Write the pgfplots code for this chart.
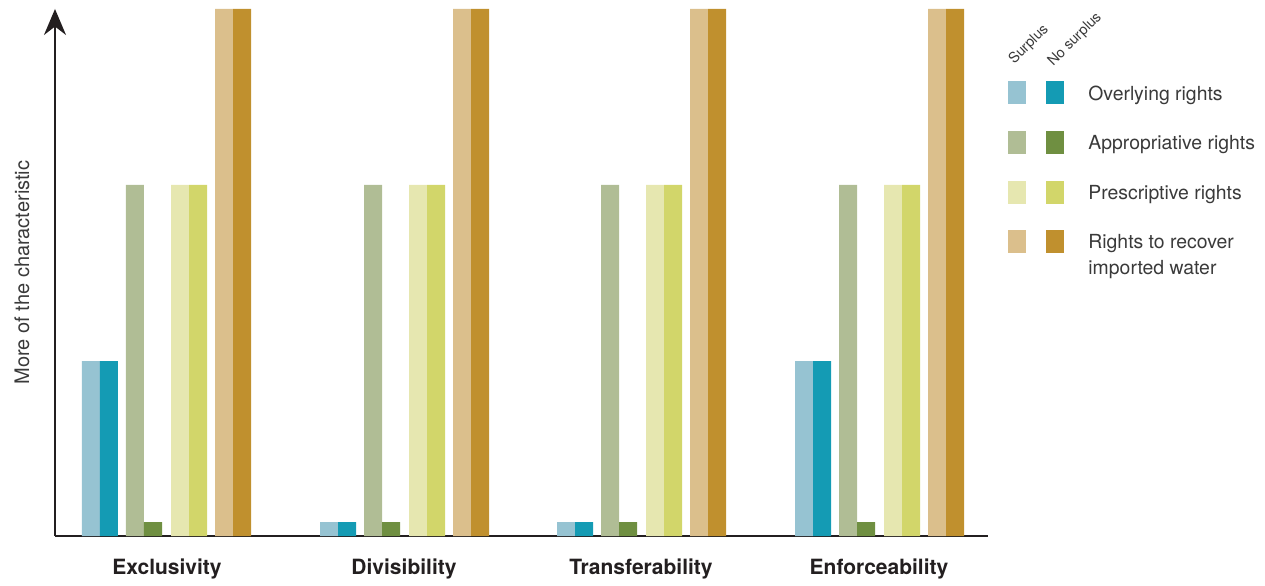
\documentclass[border=0pt]{standalone}
\usepackage{fontspec}
\setmainfont{TeX Gyre Heros}
\usepackage{pgfplots}
\pgfplotsset{compat=1.18}
\usetikzlibrary{arrows.meta}

\definecolor{sOver}{HTML}{96C3D2}
\definecolor{nOver}{HTML}{149BB4}
\definecolor{sAppr}{HTML}{B0BD95}
\definecolor{nAppr}{HTML}{6F8F41}
\definecolor{sPres}{HTML}{E6E7B0}
\definecolor{nPres}{HTML}{D2D66A}
\definecolor{sRec}{HTML}{DBBF8C}
\definecolor{nRec}{HTML}{C0902E}
\definecolor{axisgray}{HTML}{231F20}
\definecolor{textgray}{HTML}{3A3A3A}

% legend picture: surplus square, then no-surplus square
\newcommand{\pairimage}[2]{%
  \addlegendimage{legend image code/.code={%
    \fill[#1, draw=none] (0pt,-2.15pt) rectangle (9pt,9.35pt);
    \fill[#2, draw=none] (19pt,-2.15pt) rectangle (28pt,9.35pt);
    \path[draw=none, fill=none] (0pt,0pt) -- (38pt,0pt);}}}

\begin{document}
\begin{tikzpicture}
\begin{axis}[
    scale only axis,
    width=466.5pt, height=263.5pt,
    xmin=55, xmax=988, ymin=0, ymax=527,
    axis x line=bottom, axis y line=left,
    x axis line style={-, line width=0.8pt, color=axisgray},
    y axis line style={-{Stealth[length=13pt,width=11pt]}, line width=0.7pt, color=axisgray},
    ytick=\empty,
    xtick={167,404,641,879},
    xticklabels={Exclusivity,Divisibility,Transferability,Enforceability},
    xticklabel style={font=\fontsize{10.5}{12}\selectfont\bfseries, text=axisgray, yshift=-8pt},
    major tick length=0pt,
    ylabel={More of the characteristic},
    ylabel style={at={(axis description cs:-0.0354,0.5)}, anchor=center,
        font=\fontsize{10}{12}\selectfont, text=textgray},
    ybar, bar width=18, bar shift=0pt,
    clip=false,
    legend style={at={(axis description cs:1.0214,0.8634)}, anchor=north west,
        draw=none, fill=none, inner sep=0pt, row sep=13.3pt,
        font=\fontsize{9.7}{13}\selectfont, text=textgray,
        nodes={inner ysep=0pt}, cells={anchor=base west}},
]

% Overlying rights
\addplot[fill=sOver, draw=none, forget plot] coordinates {(91,175) (329,14) (566,14) (804,175)};
\addplot[fill=nOver, draw=none, forget plot] coordinates {(109,175) (347,14) (584,14) (822,175)};
% Appropriative rights
\addplot[fill=sAppr, draw=none, forget plot] coordinates {(135,351) (373,351) (610,351) (848,351)};
\addplot[fill=nAppr, draw=none, forget plot] coordinates {(153,14) (391,14) (628,14) (866,14)};
% Prescriptive rights
\addplot[fill=sPres, draw=none, forget plot] coordinates {(180,351) (418,351) (655,351) (893,351)};
\addplot[fill=nPres, draw=none, forget plot] coordinates {(198,351) (436,351) (673,351) (911,351)};
% Rights to recover imported water
\addplot[fill=sRec, draw=none, forget plot] coordinates {(224,527) (462,527) (699,527) (937,527)};
\addplot[fill=nRec, draw=none, forget plot] coordinates {(242,527) (480,527) (717,527) (955,527)};

\pairimage{sOver}{nOver}
\addlegendentry{Overlying rights}
\pairimage{sAppr}{nAppr}
\addlegendentry{Appropriative rights}
\pairimage{sPres}{nPres}
\addlegendentry{Prescriptive rights}
\pairimage{sRec}{nRec}
\addlegendentry{\begin{tabular}[t]{@{}l@{}}Rights to recover\\imported water\end{tabular}}

\node[rotate=45, anchor=base west, inner sep=0pt, font=\fontsize{7.2}{8}\selectfont, text=textgray]
    at (axis cs:1014,471) {Surplus};
\node[rotate=45, anchor=base west, inner sep=0pt, font=\fontsize{7.2}{8}\selectfont, text=textgray]
    at (axis cs:1053,469) {No surplus};

% page frame
\path (axis cs:0,-43) rectangle (axis cs:1265,536);
\end{axis}
\end{tikzpicture}
\end{document}
